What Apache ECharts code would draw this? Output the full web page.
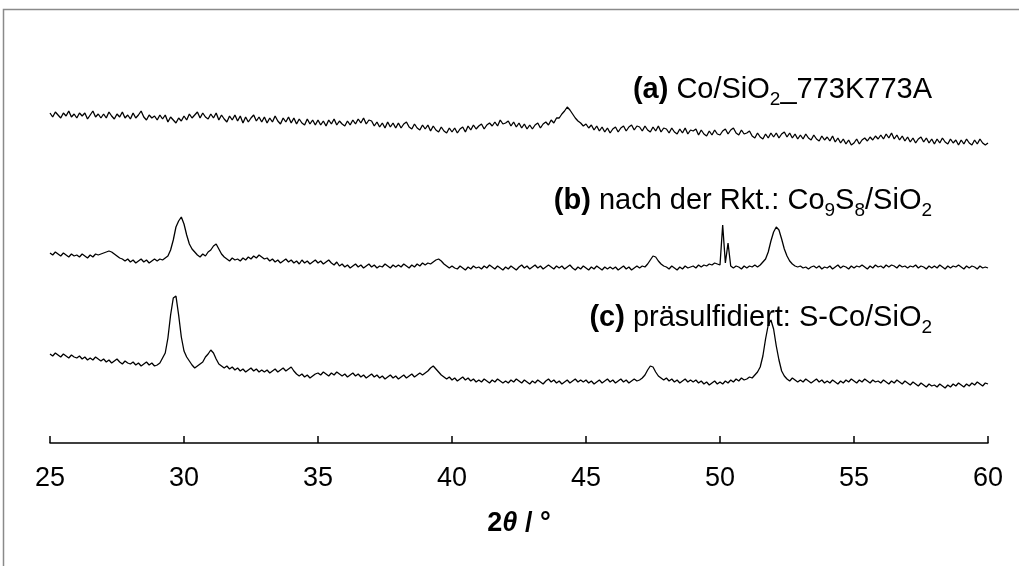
<!DOCTYPE html>
<html>
<head>
<meta charset="utf-8">
<script src="https://cdn.jsdelivr.net/npm/echarts@6/dist/echarts.min.js"></script>
<style>
html,body{margin:0;padding:0;background:#fff;}
#chart{width:1019px;height:566px;}
</style>
</head>
<body>
<div id="chart"></div>
<script>
// 2θ sampling: 25.0 .. 60.0 in steps of 0.1°
const thetaStart = 25;
const thetaStep = 0.1;
const xTicks = [25, 30, 35, 40, 45, 50, 55, 60];

const seriesNames = ['(a) Co/SiO2_773K773A', '(b) nach der Rkt.: Co9S8/SiO2', '(c) präsulfidiert: S-Co/SiO2'];

// Intensity (arbitrary units, offset traces), one value per 0.1° from 25.0 to 60.0
const traceA = [
330,326,331,328,325,330,327,332,326,329,
325,330,327,330,324,328,332,326,329,325,
329,325,331,327,324,329,326,331,325,328,
324,330,325,328,332,326,323,328,325,327,
323,328,324,328,321,326,323,320,325,322,
327,323,329,325,328,331,325,330,326,324,
329,325,330,323,328,324,321,327,323,328,
322,327,320,326,321,325,328,322,326,321,
326,320,325,321,327,322,319,325,321,326,
320,325,319,324,320,318,324,319,323,318,
323,318,322,317,323,319,324,318,322,319,
317,322,318,323,319,324,320,325,319,323,
322,317,321,316,320,315,321,316,320,315,
320,315,319,321,316,314,319,315,313,318,
314,318,312,317,313,311,316,312,310,315,
311,315,310,314,316,311,317,313,318,314,
317,319,314,318,320,317,321,317,323,319,
320,322,317,321,316,320,315,319,314,318,
314,318,320,315,319,321,318,323,320,325,
325,329,332,336,333,329,325,322,320,317,
319,315,318,313,317,312,316,311,315,310,
314,316,311,315,317,312,316,318,313,317,
316,312,317,313,311,316,312,317,311,315,
314,310,315,311,309,314,310,315,309,313,
312,314,308,313,309,307,312,308,313,309,
308,312,314,309,313,315,310,308,313,309,
310,312,307,305,310,306,304,309,305,310,
306,310,305,309,311,306,310,305,309,304,
308,304,309,305,303,308,304,302,307,303,
306,302,307,301,305,300,304,299,303,298,
300,304,299,303,305,302,306,303,307,304,
308,304,309,305,310,304,308,303,307,302,
306,301,305,300,304,306,301,305,300,304,
299,304,300,305,301,299,304,300,303,298,
303,299,304,300,298,303,299,304,300,298,
300];

const traceB = [
190,188,191,189,187,190,188,186,189,187,
188,186,189,187,185,188,186,189,188,189,
190,191,192,191,189,187,185,184,182,184,
181,183,180,182,184,181,183,180,182,184,
182,184,183,185,187,193,203,216,222,226,
219,208,199,194,191,188,186,189,187,191,
193,197,199,194,189,186,184,182,185,183,
184,182,185,183,186,184,187,185,188,186,
184,185,182,184,181,183,180,182,184,181,
183,180,182,179,183,180,182,179,181,183,
180,182,179,181,183,180,178,181,177,179,
176,178,175,177,179,176,178,175,177,179,
176,178,175,177,176,179,177,175,178,176,
178,176,179,177,175,178,176,179,177,180,
178,180,179,181,183,184,182,179,177,175,
177,175,174,177,175,173,176,174,177,175,
176,174,177,175,178,176,174,177,175,173,
176,174,177,175,173,176,178,175,177,174,
176,178,175,177,174,176,178,176,174,177,
175,177,174,176,178,175,173,176,174,177,
175,173,176,174,177,175,173,176,174,176,
174,176,173,175,177,174,176,173,175,177,
175,177,176,179,183,187,186,182,179,177,
176,174,177,175,173,176,174,177,175,176,
177,175,178,176,178,177,179,178,180,179,
178,218,180,200,177,175,177,176,174,177,
175,177,176,178,176,178,181,184,191,202,
211,216,213,204,194,187,182,179,177,176,
177,175,176,174,176,177,175,177,174,176,
175,177,174,176,178,175,177,176,174,177,
175,177,176,178,176,174,177,175,178,176,
177,175,178,176,178,177,175,178,176,177,
175,177,176,178,175,177,176,174,177,175,
177,175,178,176,174,177,175,177,176,178,
176,174,177,175,177,176,174,177,175,176,
175];

const traceC = [
89,87,90,88,86,89,87,85,88,86,
85,87,84,86,83,85,83,86,84,82,
84,81,83,80,82,84,81,79,82,80,
79,81,78,80,77,79,81,78,80,77,
78,80,85,90,105,128,145,147,128,106,
92,86,82,78,75,77,79,81,86,89,
93,90,84,79,77,75,77,74,76,73,
75,72,74,71,73,75,72,74,71,73,
71,73,70,72,74,71,73,75,72,74,
76,72,69,67,69,66,68,65,67,69,
70,68,71,69,67,70,68,71,69,67,
69,66,68,70,67,69,66,68,65,67,
69,66,68,65,67,64,66,68,65,67,
64,66,68,65,67,69,66,68,70,68,
70,72,75,77,74,71,68,66,64,66,
63,65,62,64,66,63,65,62,64,61,
63,61,64,62,60,63,61,64,62,60,
62,60,63,61,64,62,60,63,61,59,
62,60,63,61,59,62,64,61,63,60,
62,59,61,63,60,62,64,61,63,61,
63,60,62,59,61,63,60,62,64,61,
63,60,62,64,61,63,60,62,64,62,
63,65,68,73,77,76,71,67,65,63,
65,62,64,61,63,60,62,64,61,63,
61,63,60,62,59,61,58,60,62,59,
61,59,62,60,63,61,64,62,65,63,
64,66,65,68,71,76,87,104,118,123,
114,97,83,72,67,64,62,65,63,61,
63,61,64,62,60,62,64,61,63,60,
62,60,63,61,59,62,60,63,61,64,
62,60,63,61,64,62,60,63,61,62,
60,63,61,59,62,60,63,61,59,62,
60,58,61,59,57,60,58,56,59,57,
58,56,59,57,55,58,56,59,57,60,
58,56,59,57,60,58,61,59,57,60,
59];

function pairs(arr) {
  return arr.map((v, i) => [+(thetaStart + i * thetaStep).toFixed(2), v]);
}

const FONT = 'Arial, "Liberation Sans", sans-serif';
const chart = echarts.init(document.getElementById('chart'), null, {renderer: 'canvas'});

function lineSeries(name, arr) {
  return {
    name: name,
    type: 'line',
    data: pairs(arr),
    showSymbol: false,
    symbol: 'none',
    lineStyle: {color: '#000', width: 1.3},
    silent: true,
    animation: false
  };
}

const richLabel = {
  b: {fontWeight: 'bold', fontSize: 29, fontFamily: FONT, lineHeight: 38, fill: '#000'},
  s: {fontSize: 19, fontFamily: FONT, verticalAlign: 'bottom', lineHeight: 19, fill: '#000'}
};

function labelText(txt, y) {
  return {
    type: 'text',
    x: 932,
    y: y,
    silent: true,
    style: {
      text: txt,
      align: 'right',
      verticalAlign: 'middle',
      fontSize: 29,
      fontFamily: FONT,
      lineHeight: 38,
      fill: '#000',
      rich: richLabel
    }
  };
}

chart.setOption({
  backgroundColor: '#fff',
  animation: false,
  grid: {left: 50, right: 31, top: 43, bottom: 123},
  xAxis: {
    type: 'value',
    min: xTicks[0],
    max: xTicks[xTicks.length - 1],
    interval: 5,
    axisLine: {show: true, lineStyle: {color: '#000', width: 1.5}},
    axisTick: {show: true, inside: true, length: 7, lineStyle: {color: '#000', width: 1.5}},
    axisLabel: {color: '#000', fontSize: 27, fontFamily: FONT, margin: 22, showMinLabel: true, showMaxLabel: true},
    splitLine: {show: false},
    name: '2{i|θ} / °',
    nameLocation: 'middle',
    nameGap: 67,
    nameTextStyle: {
      color: '#000', fontSize: 27, fontWeight: 'bold', fontFamily: FONT,
      rich: {i: {fontStyle: 'italic', fontWeight: 'bold', fontSize: 27, fontFamily: FONT, color: '#000'}}
    }
  },
  yAxis: {
    type: 'value', min: 0, max: 400, show: false
  },
  series: [
    lineSeries(seriesNames[0], traceA),
    lineSeries(seriesNames[1], traceB),
    lineSeries(seriesNames[2], traceC)
  ],
  graphic: [
    {
      type: 'rect', silent: true,
      shape: {x: 3.5, y: 9.5, width: 1200, height: 800},
      style: {fill: 'none', stroke: '#8a8a8a', lineWidth: 1.5}
    },
    labelText('{b|(a)} Co/SiO{s|2}_773K773A', 90),
    labelText('{b|(b)} nach der Rkt.: Co{s|9}S{s|8}/SiO{s|2}', 201),
    labelText('{b|(c)} präsulfidiert: S-Co/SiO{s|2}', 318)
  ]
});
</script>
</body>
</html>
